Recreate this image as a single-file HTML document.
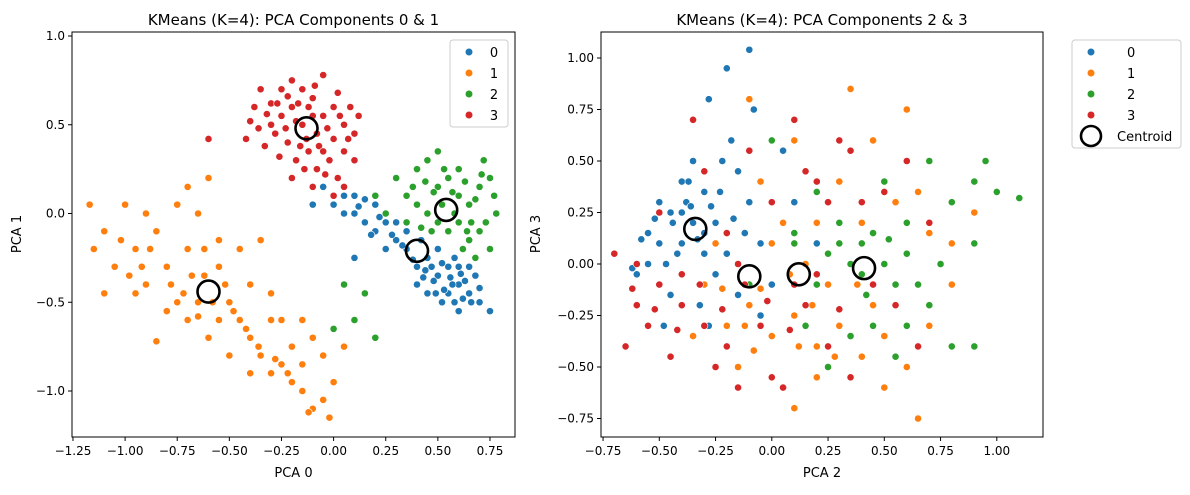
<!DOCTYPE html>
<html><head><meta charset="utf-8"><style>
body{margin:0;background:#fff;font-family:"Liberation Sans","DejaVu Sans",sans-serif}
svg text{font-family:"DejaVu Sans","Liberation Sans",sans-serif;fill:#000}
</style></head><body>
<svg id="c" width="1190" height="490" xmlns="http://www.w3.org/2000/svg"></svg>
<script>
const colors=['#1f77b4','#ff7f0e','#2ca02c','#d62728'];
const L0=[[-0.05,0.15],[0,0.05],[0.05,0.1],[0.1,0.0],[0.15,-0.05],[0.2,-0.1],[0.25,-0.05],[0.3,-0.15],[0.35,-0.2],[0.4,-0.3],[0.45,-0.25],[0.5,-0.35],[0.55,-0.3],[0.6,-0.4],[0.65,-0.45],[0.7,-0.5],[0.75,-0.55],[0.55,-0.45],[0.6,-0.3],[0.5,-0.2],[0.45,-0.45],[0.6,-0.55],[0.68,-0.35],[0.2,0.05],[0.1,0.1],[0.3,-0.05],[0.35,-0.1],[0.25,-0.2],[0.4,-0.4],[0.52,-0.5],[0.1,-0.25],[-0.1,0.05],[0.58,-0.25],[0.65,-0.3],[0.42,-0.15],[0.15,0.08],[0.48,-0.38],[0.62,-0.48],[0.56,-0.36],[0.44,-0.32],[0.52,-0.28],[0.57,-0.4],[0.63,-0.38],[0.47,-0.3],[0.53,-0.43],[0.66,-0.5],[0.7,-0.42],[0.38,-0.26],[0.33,-0.18],[0.28,-0.12],[0.22,-0.02],[0.12,0.04],[0.05,0.0],[0.18,-0.12],[0.43,-0.36],[0.58,-0.5],[0.61,-0.34],[0.49,-0.45]];
const L1=[[-1.17,0.05],[-1.1,-0.1],[-1.05,-0.3],[-1.0,0.05],[-0.95,-0.2],[-0.9,-0.4],[-0.85,-0.1],[-0.8,-0.3],[-0.75,-0.5],[-0.7,-0.2],[-0.65,0.0],[-0.6,0.2],[-0.55,-0.3],[-0.5,-0.5],[-0.45,-0.6],[-0.4,-0.7],[-0.35,-0.8],[-0.3,-0.9],[-0.25,-0.85],[-0.2,-0.95],[-0.15,-1.0],[-0.1,-1.1],[-0.05,-1.05],[0.0,-0.95],[-0.05,-0.8],[-0.1,-0.7],[-0.2,-0.75],[-0.3,-0.6],[-0.4,-0.4],[-0.45,-0.2],[-0.55,-0.6],[-0.6,-0.7],[-0.65,-0.5],[-0.7,-0.6],[-0.8,-0.55],[-0.85,-0.72],[-1.1,-0.45],[-0.95,-0.45],[-0.75,0.05],[-0.7,0.15],[-0.62,-0.35],[-0.5,-0.8],[-0.35,-0.15],[-0.3,-0.45],[-0.25,-0.6],[-0.15,-0.85],[-0.15,-0.6],[0.05,-0.75],[-0.4,-0.9],[-0.55,-0.15],[-0.9,0.0],[-1.15,-0.2],[-0.02,-1.15],[-0.12,-1.12],[-1.02,-0.15],[-0.92,-0.3],[-0.78,-0.4],[-0.68,-0.35],[-0.58,-0.5],[-0.52,-0.4],[-0.48,-0.55],[-0.42,-0.65],[-0.36,-0.75],[-0.28,-0.82],[-0.22,-0.9],[-0.62,-0.2],[-0.72,-0.45],[-0.98,-0.35],[-0.88,-0.2],[-0.65,-0.58]];
const L2=[[0.3,0.2],[0.35,0.1],[0.4,0.25],[0.45,0.3],[0.5,0.15],[0.55,0.2],[0.6,0.1],[0.65,0.05],[0.7,0.15],[0.75,0.2],[0.78,0.0],[0.7,-0.1],[0.65,-0.15],[0.6,-0.05],[0.55,-0.1],[0.5,-0.05],[0.45,0.0],[0.4,0.05],[0.35,-0.05],[0.6,0.25],[0.72,0.3],[0.5,0.35],[0.2,0.1],[0.25,0.0],[0.68,-0.25],[0.75,-0.2],[0.58,0.0],[0.1,-0.6],[0.2,-0.7],[0.0,-0.65],[0.15,-0.45],[0.05,-0.4],[0.62,-0.2],[0.48,0.12],[0.52,0.05],[0.57,0.12],[0.63,0.18],[0.68,0.08],[0.73,-0.05],[0.66,-0.05],[0.44,0.18],[0.38,0.15],[0.53,0.25],[0.47,-0.1],[0.42,-0.08],[0.71,0.22],[0.77,0.1],[0.64,-0.1]];
const L3=[[-0.35,0.7],[-0.3,0.62],[-0.25,0.55],[-0.2,0.6],[-0.15,0.7],[-0.1,0.65],[-0.05,0.55],[0,0.6],[0.05,0.5],[0.1,0.45],[-0.28,0.45],[-0.22,0.4],[-0.18,0.3],[-0.12,0.35],[-0.08,0.25],[-0.02,0.3],[0.02,0.2],[-0.3,0.5],[-0.38,0.6],[-0.4,0.52],[-0.42,0.42],[-0.6,0.42],[-0.33,0.38],[-0.25,0.7],[-0.2,0.75],[-0.05,0.78],[-0.08,0.45],[-0.15,0.5],[-0.1,0.55],[0.0,0.42],[0.05,0.35],[0.08,0.6],[0.12,0.55],[-0.2,0.2],[-0.1,0.15],[0.0,0.1],[0.05,0.15],[-0.27,0.62],[-0.12,0.6],[0.1,0.3],[-0.18,0.52],[-0.13,0.42],[-0.07,0.38],[-0.23,0.48],[-0.03,0.48],[0.03,0.55],[-0.17,0.62],[-0.32,0.56],[-0.26,0.32],[-0.14,0.25],[-0.04,0.22],[0.07,0.42],[-0.36,0.48],[-0.22,0.66],[-0.09,0.72],[0.02,0.68],[-0.16,0.38],[-0.05,0.35]];
const R0=[[-0.55,0.15],[-0.5,0.3],[-0.45,0.25],[-0.4,0.4],[-0.35,0.5],[-0.3,0.35],[-0.25,0.2],[-0.2,0.95],[-0.18,0.6],[-0.15,0.45],[-0.1,0.3],[-0.05,0.1],[0.0,-0.1],[-0.6,-0.05],[-0.55,0.0],[-0.45,-0.15],[-0.4,0.1],[-0.35,0.2],[-0.3,0.15],[-0.25,-0.05],[-0.2,0.05],[-0.1,1.04],[-0.28,0.8],[-0.22,0.5],[-0.38,0.3],[-0.5,0.1],[-0.32,-0.2],[-0.15,-0.15],[-0.08,0.75],[0.05,0.55],[0.1,0.3],[0.2,0.1],[-0.42,0.05],[-0.27,0.28],[-0.12,0.15],[-0.58,0.12],[-0.48,-0.3],[-0.05,-0.25],[-0.44,0.2],[-0.36,0.28],[-0.33,0.12],[-0.4,0.25],[-0.3,0.05],[-0.47,0.0],[-0.23,0.35],[-0.17,0.22],[-0.52,0.22],[-0.37,0.4],[-0.62,-0.02],[-0.28,-0.3]];
const R1=[[-0.3,-0.1],[-0.2,-0.3],[-0.1,-0.2],[0.0,-0.35],[0.1,-0.25],[0.2,-0.4],[0.3,-0.3],[0.4,-0.45],[0.5,-0.35],[0.6,-0.5],[0.65,-0.75],[0.1,-0.7],[0.2,-0.55],[0.35,0.85],[0.6,0.75],[0.45,0.6],[0.3,0.4],[0.2,0.2],[0.0,0.1],[-0.1,0.8],[0.1,0.6],[-0.05,0.4],[0.4,0.2],[0.55,0.3],[0.7,0.15],[0.8,-0.1],[0.9,0.25],[0.8,0.1],[-0.25,0.1],[-0.15,-0.5],[0.5,-0.6],[0.7,-0.3],[0.25,-0.1],[0.15,0.0],[-0.35,-0.35],[0.45,-0.2],[0.05,0.2],[0.65,0.35],[-0.12,-0.3],[-0.05,-0.12],[0.08,-0.05],[0.18,-0.2],[0.28,-0.45],[-0.22,-0.12],[0.38,-0.1],[0.12,-0.4],[-0.08,-0.42]];
const R2=[[0.0,0.6],[0.1,0.1],[0.2,-0.1],[0.3,0.2],[0.4,0.1],[0.45,-0.3],[0.5,0.0],[0.55,-0.1],[0.6,0.2],[0.7,0.5],[0.8,0.3],[0.9,0.4],[1.0,0.35],[1.1,0.32],[0.95,0.5],[0.9,-0.4],[0.8,-0.4],[0.7,-0.2],[0.6,-0.3],[0.35,-0.35],[0.25,-0.5],[0.3,0.1],[0.5,0.4],[0.4,-0.05],[0.2,0.35],[-0.1,-0.1],[0.1,0.15],[0.6,0.05],[0.45,0.15],[0.75,0.0],[0.55,-0.45],[0.15,-0.3],[0.9,0.1],[0.25,0.05],[0.35,0.0],[0.42,-0.15],[0.52,0.12],[0.65,-0.1]];
const R3=[[-0.7,0.05],[-0.65,-0.4],[-0.6,-0.2],[-0.55,-0.3],[-0.5,-0.1],[-0.45,-0.45],[-0.4,-0.2],[-0.35,0.7],[-0.3,-0.3],[-0.25,-0.5],[-0.2,-0.4],[-0.15,0.0],[-0.1,0.55],[-0.05,-0.3],[0.0,0.3],[0.05,-0.6],[0.1,0.7],[0.15,-0.2],[0.2,0.4],[0.25,-0.4],[0.3,0.6],[0.35,-0.55],[0.4,0.3],[0.45,-0.1],[0.5,0.35],[0.55,-0.2],[0.6,0.5],[0.65,-0.4],[0.7,0.2],[-0.6,0.0],[-0.5,0.25],[-0.3,0.45],[-0.2,0.15],[0.0,-0.55],[0.1,-0.1],[0.25,0.3],[-0.4,-0.05],[0.35,0.55],[-0.15,-0.6],[0.15,0.45],[-0.62,-0.12],[-0.52,-0.22],[-0.42,-0.32],[-0.32,-0.1],[-0.22,-0.22],[-0.12,-0.1],[-0.02,-0.18],[0.08,-0.32],[0.2,-0.05],[0.3,-0.22]];
const centL=[[-0.6,-0.44],[0.4,-0.21],[0.54,0.02],[-0.13,0.48]];
const centR=[[-0.34,0.17],[-0.1,-0.06],[0.12,-0.05],[0.41,-0.02]];
const ticksLX=[-1.25,-1.0,-0.75,-0.5,-0.25,0,0.25,0.5,0.75];
const ticksLY=[-1.0,-0.5,0,0.5,1.0];
const ticksRX=[-0.75,-0.5,-0.25,0,0.25,0.5,0.75,1.0];
const ticksRY=[-0.75,-0.5,-0.25,0,0.25,0.5,0.75,1.0];
const svg=document.getElementById('c');const NS='http://www.w3.org/2000/svg';
function mk(t,a,p){const e=document.createElementNS(NS,t);for(const k in a)e.setAttribute(k,a[k]);(p||svg).appendChild(e);return e;}
function fmt(v,d){return (v<0?'\u2212':'')+Math.abs(v).toFixed(d);}
function panel(o){
 const g=mk('g',{});
 
 
 const sx=v=>o.x0+(v-o.xa)*o.kx, sy=v=>o.y0-(v-o.ya)*o.ky;
 o.series.forEach((s,i)=>s.forEach(p=>{
  const c=mk('circle',{cx:sx(p[0]),cy:sy(p[1]),r:3.6,fill:colors[i],stroke:'#fff','stroke-width':0.6},g);
  
  
 }));
 o.cent.forEach(p=>{
  const c=mk('circle',{cx:sx(p[0]),cy:sy(p[1]),r:11,fill:'none',stroke:'#000','stroke-width':2.6},g);
  
  
 });
 mk('rect',{x:o.L,y:32,width:o.W,height:405,fill:'none',stroke:'#000','stroke-width':1},g);
 o.tx.forEach(v=>{const x=sx(v);mk('line',{x1:x,x2:x,y1:437,y2:441,stroke:'#000'},g);
  const t=mk('text',{x:x,y:455,'font-size':12,'text-anchor':'middle'},g);t.textContent=fmt(v,2);});
 o.ty.forEach(v=>{const y=sy(v);mk('line',{x1:o.L-4,x2:o.L,y1:y,y2:y,stroke:'#000'},g);
  const t=mk('text',{x:o.L-7,y:y+4,'font-size':12,'text-anchor':'end'},g);t.textContent=fmt(v,o.yd);});
 let t=mk('text',{x:o.L+o.W/2,y:25,'font-size':15,'text-anchor':'middle'},g);t.textContent=o.title;
 
 t=mk('text',{x:o.L+o.W/2,y:477,'font-size':13,'text-anchor':'middle'},g);t.textContent=o.xl;
 
 t=mk('text',{x:o.ylx,y:234,'font-size':13,'text-anchor':'middle',transform:`rotate(-90 ${o.ylx} 234)`},g);t.textContent=o.yl;
 
}
panel({name:'left-panel',L:72,W:443,x0:333.6,xa:0,kx:208.5,y0:213.5,ya:0,ky:177.5,series:[L0,L1,L2,L3],cent:centL,tx:ticksLX,ty:ticksLY,yd:1,title:'KMeans (K=4): PCA Components 0 & 1',xl:'PCA 0',yl:'PCA 1',ylx:21});
panel({name:'right-panel',L:601,W:442,x0:771.8,xa:0,kx:225,y0:264,ya:0,ky:206,series:[R0,R1,R2,R3],cent:centR,tx:ticksRX,ty:ticksRY,yd:2,title:'KMeans (K=4): PCA Components 2 & 3',xl:'PCA 2',yl:'PCA 3',ylx:540});
function legend(x,y,w,h,cent,name){
 const g=mk('g',{});
 
 
 mk('rect',{x:x,y:y,width:w,height:h,rx:3,fill:'#fff','fill-opacity':0.8,stroke:'#ccc'},g);
 ['0','1','2','3'].forEach((l,i)=>{const cy=y+12+i*21;
  mk('circle',{cx:x+19,cy:cy,r:3.5,fill:colors[i]},g);
  const t=mk('text',{x:x+(cent?55:44),y:cy+5,'font-size':13,'text-anchor':cent?'start':'middle'},g);t.textContent=l;
  });
 if(cent){const cy=y+96;mk('circle',{cx:x+19,cy:cy,r:10,fill:'none',stroke:'#000','stroke-width':2.6},g);
  const t=mk('text',{x:x+45,y:cy+5,'font-size':13},g);t.textContent='Centroid';
  }
}
legend(450,40,58,87,false,'legend-left');
legend(1072,40,109,108,true,'legend-right');
</script>
</body></html>
